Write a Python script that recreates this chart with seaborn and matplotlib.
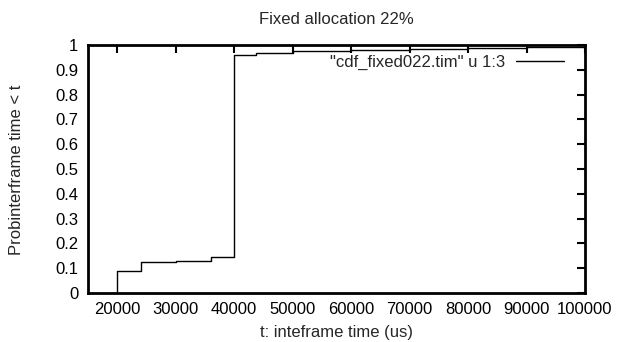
import matplotlib
matplotlib.use("Agg")
import matplotlib.pyplot as plt
import seaborn as sns
import pandas as pd

x_vals = [20000, 20000, 24000, 27000, 30000, 33000, 36000, 40000, 43700, 50000, 60000, 70000, 80000, 90000, 100000]
y_vals = [0.0, 0.09, 0.124, 0.126, 0.128, 0.130, 0.144, 0.96, 0.966, 0.975, 0.981, 0.985, 0.988, 0.99, 0.992]
x_ticks = [20000, 30000, 40000, 50000, 60000, 70000, 80000, 90000, 100000]
y_ticks = [0, 0.1, 0.2, 0.3, 0.4, 0.5, 0.6, 0.7, 0.8, 0.9, 1]
y_tick_labels = ["0", "0.1", "0.2", "0.3", "0.4", "0.5", "0.6", "0.7", "0.8", "0.9", "1"]
series_label = '"cdf_fixed022.tim" u 1:3'
title = "Fixed allocation 22%"
x_label = "t: inteframe time (us)"
y_label = "Probinterframe time < t"

sns.set_style("white")
plt.rcParams['font.family'] = ['Liberation Sans', 'DejaVu Sans']
FS = 12

df = pd.DataFrame({"t": x_vals, "p": y_vals})

W, H = 617, 342
fig = plt.figure(figsize=(W / 100, H / 100), dpi=100)
ax = fig.add_axes([88 / W, 1 - 293 / H, (585 - 88) / W, (293 - 45) / H])
sns.lineplot(data=df, x="t", y="p", ax=ax, estimator=None, sort=False,
             drawstyle="steps-post", color="black", linewidth=1.0, label=series_label)

ax.set_xlim(15000, 100000)
ax.set_ylim(0, 1)
ax.set_xticks(x_ticks)
ax.set_xticklabels([str(v) for v in x_ticks])
ax.set_yticks(y_ticks)
ax.set_yticklabels(y_tick_labels)
ax.tick_params(direction="in", length=6, width=1.5, top=True, right=True,
               labelsize=FS, colors="black")
ax.tick_params(axis="x", pad=6.5)
ax.tick_params(axis="y", pad=7)
for s in ax.spines.values():
    s.set_linewidth(2)
    s.set_color("black")
ax.set_xlabel("")
ax.set_ylabel("")
cx = (88 + 585) / 2 / W
fig.text(cx, 1 - 332 / H, x_label, ha="center", va="center", fontsize=FS)
fig.text(17 / W, 1 - 170 / H, y_label, ha="center", va="center", rotation=90, fontsize=FS)
fig.text(cx, 1 - 20 / H, title, ha="center", va="center", fontsize=FS)

leg = ax.legend(loc="upper right", frameon=False, markerfirst=False,
                handlelength=2.9, fontsize=FS, borderaxespad=0, borderpad=0.4,
                handletextpad=0.66,
                bbox_to_anchor=(571 / W, 1 - 48 / H), bbox_transform=fig.transFigure)

fig.savefig("out.png", dpi=100)
